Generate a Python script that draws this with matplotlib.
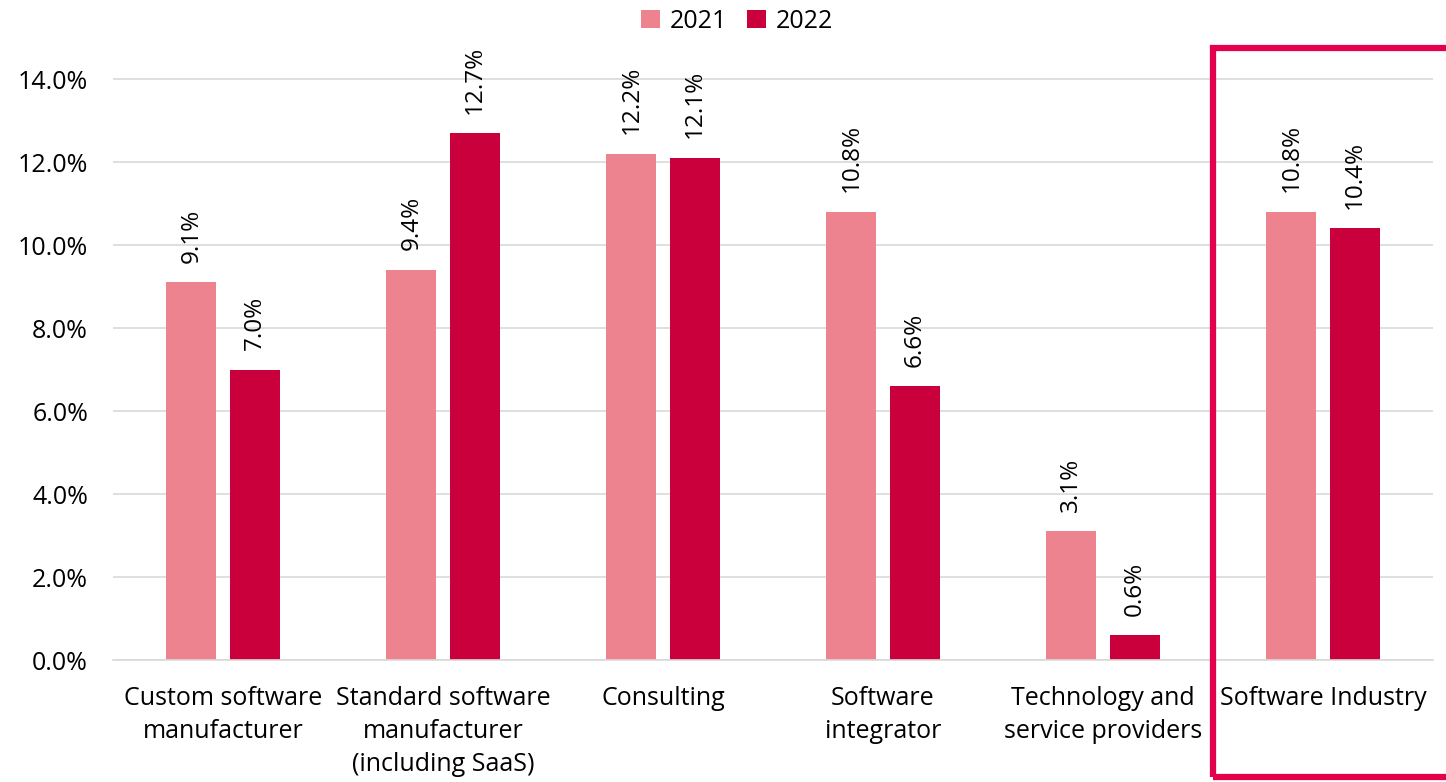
import numpy as np
import matplotlib.pyplot as plt
from matplotlib.patches import Rectangle

plt.rcParams['font.family'] = ['Open Sans', 'DejaVu Sans']

# Data
categories = ["Custom software\nmanufacturer", "Standard software\nmanufacturer\n(including SaaS)",
              "Consulting", "Software\nintegrator", "Technology and\nservice providers",
              "Software Industry"]
vals_2021 = [9.1, 9.4, 12.2, 10.8, 3.1, 10.8]
vals_2022 = [7.0, 12.7, 12.1, 6.6, 0.6, 10.4]
series_names = ["2021", "2022"]
yticks = [0, 2, 4, 6, 8, 10, 12, 14]

col_2021 = "#EC838F"
col_2022 = "#C9003B"
box_col = "#E4004B"

W, H = 1446, 782
fig = plt.figure(figsize=(W / 100, H / 100), dpi=100)
ax = fig.add_axes([113 / W, 122 / H, 1320 / W, 620 / H])

x = np.arange(len(categories))
bw = 0.227
off = 0.144
b1 = ax.bar(x - off, vals_2021, bw, color=col_2021, label=series_names[0], zorder=2)
b2 = ax.bar(x + off, vals_2022, bw, color=col_2022, label=series_names[1], zorder=2)

# Data labels, rotated
for bars, vals in ((b1, vals_2021), (b2, vals_2022)):
    for rect, v in zip(bars, vals):
        ax.annotate(f"{v:.1f}%", (rect.get_x() + rect.get_width() / 2, v),
                    xytext=(0, 14), textcoords="offset points",
                    rotation=90, ha="center", va="bottom", fontsize=17.5)

ax.set_xlim(-0.5, len(categories) - 0.5)
ax.set_ylim(0, 14.94)
ax.set_yticks(yticks)
ax.set_yticklabels([f"{t:.1f}%" for t in yticks], fontsize=18)
ax.set_xticks(x)
ax.set_xticklabels(categories, fontsize=18, linespacing=1.4, va="top")
ax.tick_params(axis="both", length=0)
ax.tick_params(axis="y", pad=18)
ax.tick_params(axis="x", pad=19)
ax.yaxis.grid(True, color="#D9D9D9", linewidth=1.2, zorder=0)
ax.set_axisbelow(True)
for s in ("top", "right", "left"):
    ax.spines[s].set_visible(False)
ax.spines["bottom"].set_color("#D9D9D9")
ax.spines["bottom"].set_linewidth(1.2)

# Legend on top
fig.legend(handles=[b1, b2], labels=series_names, loc="center", ncol=2,
           bbox_to_anchor=(737 / W, 1 - 21 / H), frameon=False, fontsize=18,
           handlelength=0.75, handleheight=0.75, handletextpad=0.4, columnspacing=0.8)

# Highlight box around the total
fig.patches.append(Rectangle((1213 / W, 1 - 777 / H), 260 / W, 729 / H,
                             transform=fig.transFigure, fill=False,
                             edgecolor=box_col, linewidth=4.5, zorder=5))

fig.savefig("out.png", dpi=100)
